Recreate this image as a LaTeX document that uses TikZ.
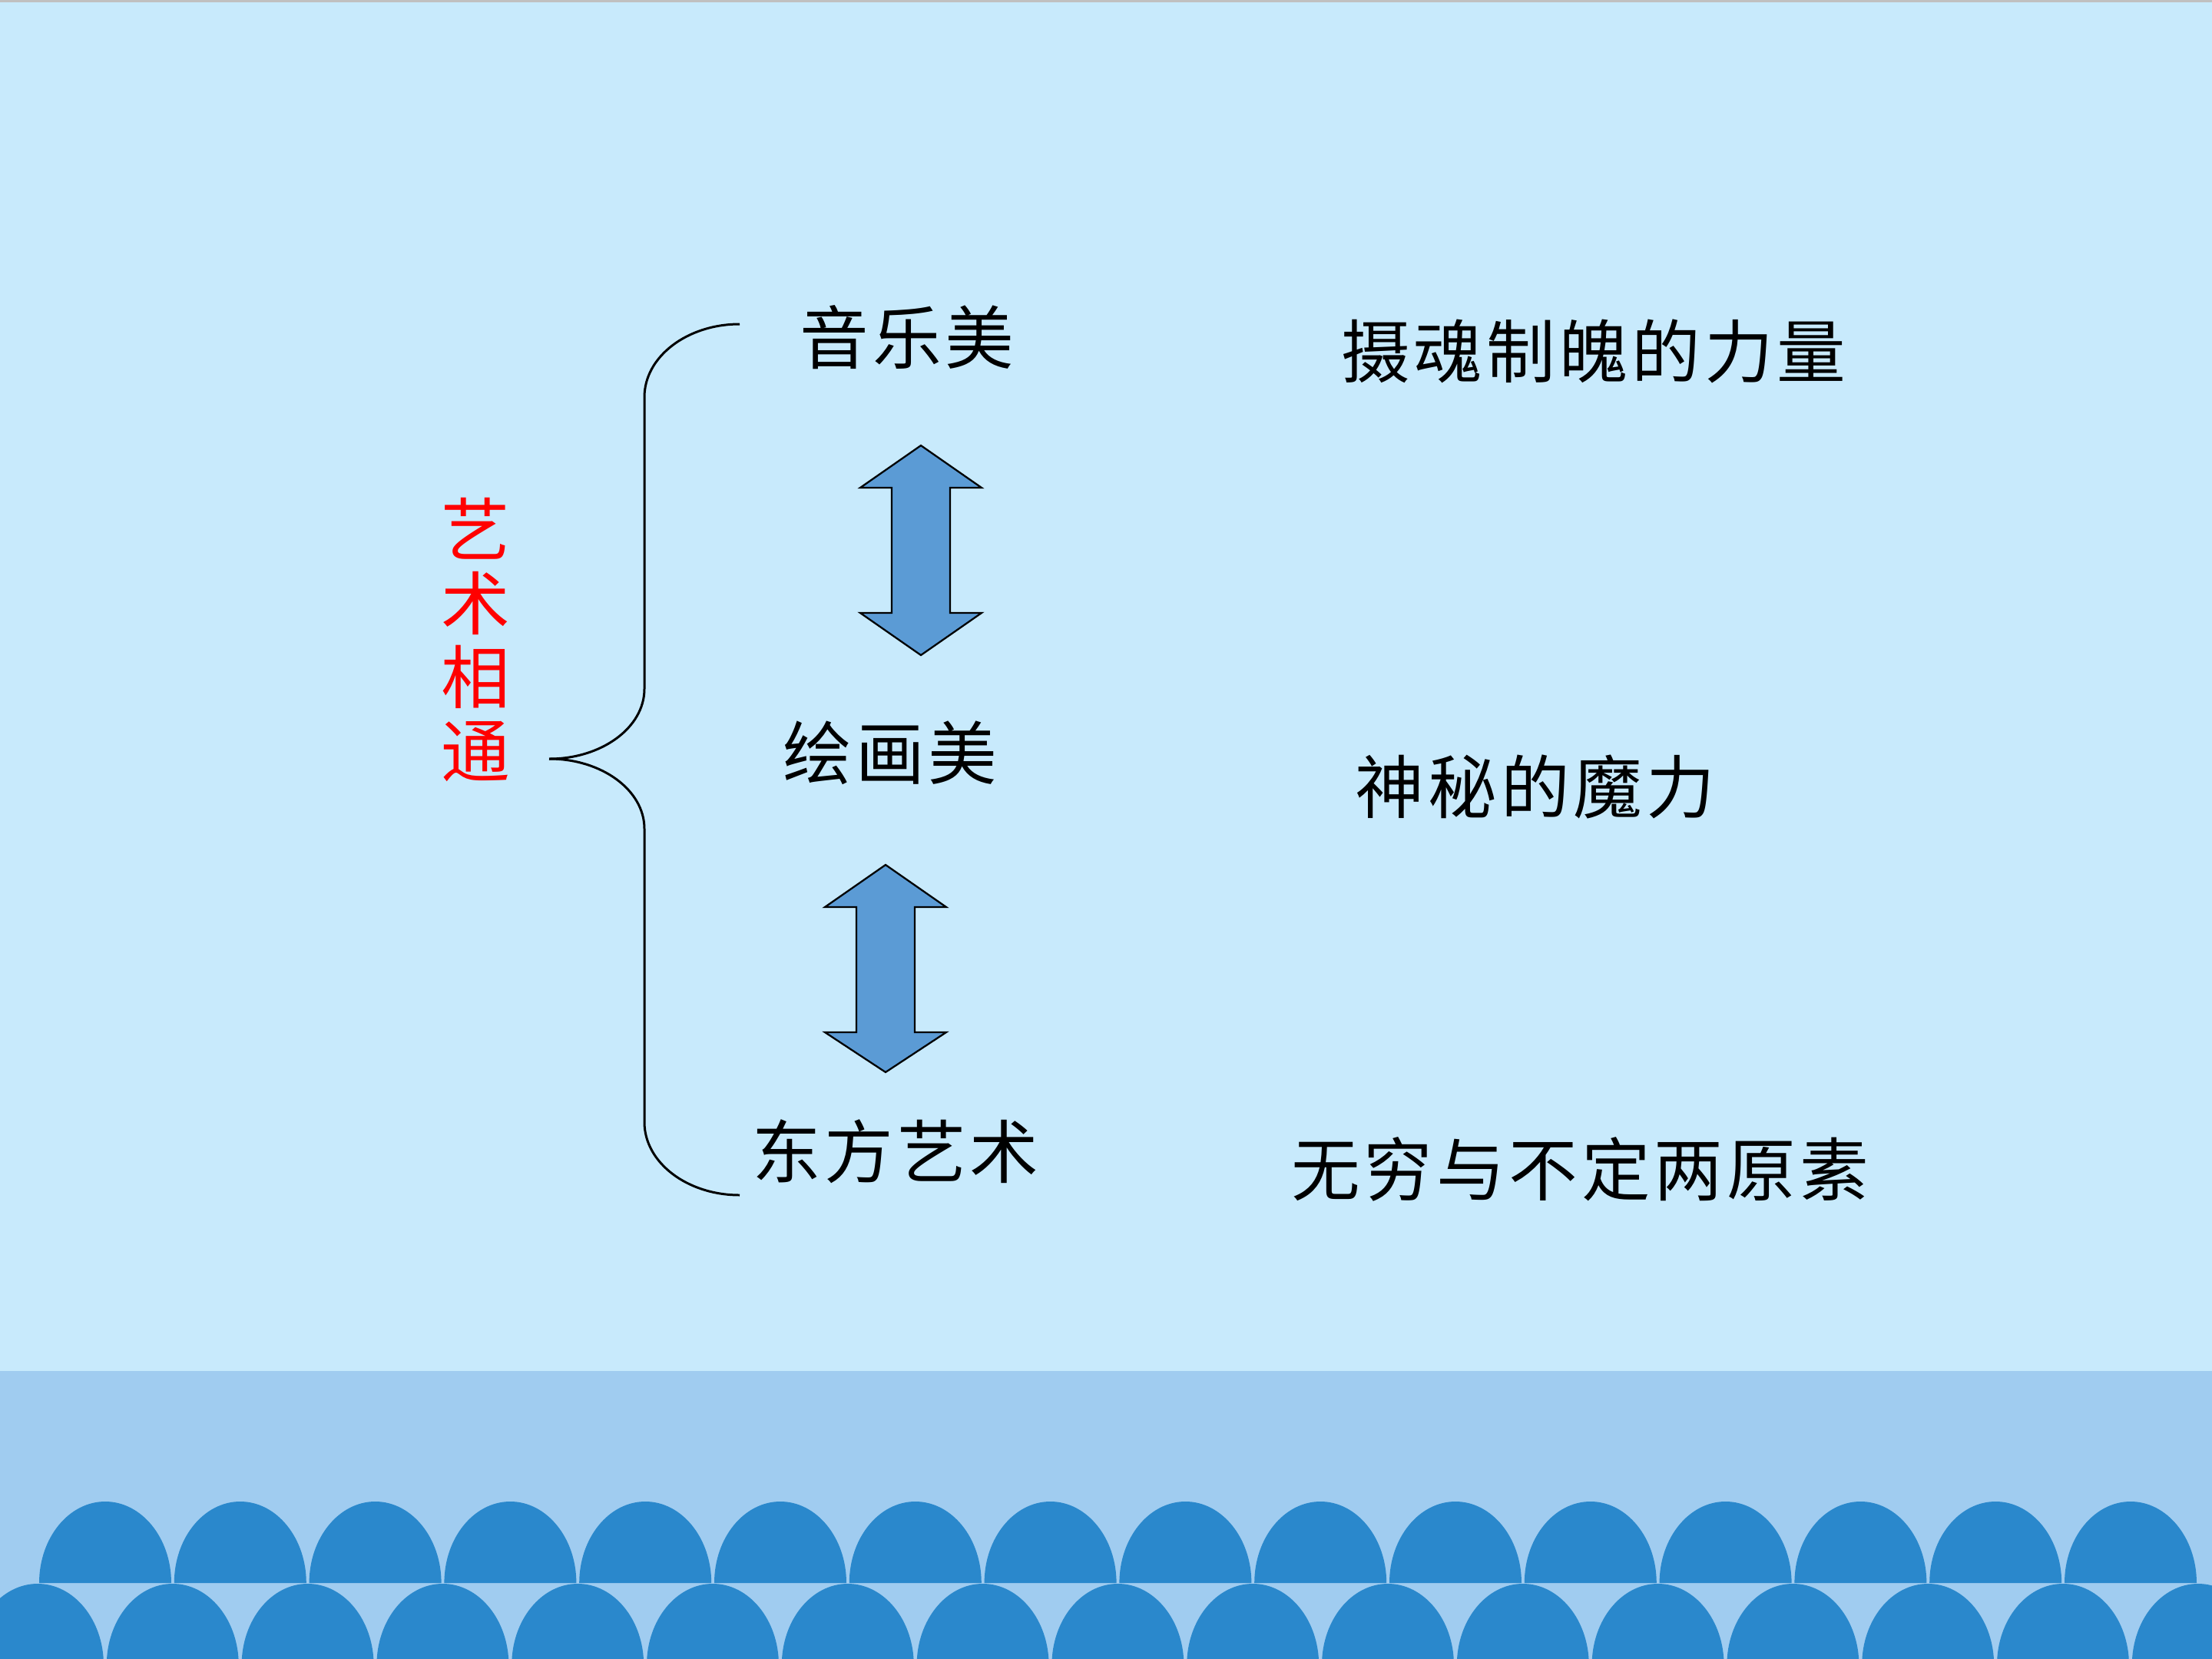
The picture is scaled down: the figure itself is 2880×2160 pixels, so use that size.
\documentclass[tikz,border=0pt]{standalone}
\usepackage{fontspec}
\newfontfamily\cjk[LetterSpace=5.5]{Noto Sans CJK SC}
\definecolor{skybg}{RGB}{200,234,252}
\definecolor{bandbg}{RGB}{160,204,240}
\definecolor{wavecol}{RGB}{42,136,204}
\definecolor{arrowblue}{RGB}{91,155,213}
\definecolor{topgray}{RGB}{192,192,192}
\begin{document}
\begin{tikzpicture}[x=0.01cm,y=0.01cm,
  lbl/.style={font=\cjk\fontsize{25.5}{27}\selectfont, inner sep=0pt, text=black},
  redlbl/.style={font=\cjk\fontsize{25.5}{27.3}\selectfont, inner sep=0pt, text=red, align=center},
  bracepath/.style={draw=black, line width=0.85pt},
  blockarrow/.style={fill=arrowblue, draw=black, line width=0.65pt, line join=miter},
  wave/.style={fill=wavecol}]
\useasboundingbox (0,0) rectangle (2880,-2160);
% background
\fill[skybg] (0,0) rectangle (2880,-2160);
\fill[topgray] (0,0) rectangle (2880,-3);
\fill[bandbg] (0,-1785) rectangle (2880,-2160);
% waves
\foreach \i in {0,...,15} {
  \fill[wave] ({137+175.8*\i-86},-2061) arc[start angle=180,end angle=0,x radius=86,y radius=106] -- cycle;
}
\foreach \i in {0,...,16} {
  \fill[wave] ({49+175.8*\i-86},-2168) arc[start angle=180,end angle=0,x radius=86,y radius=106] -- cycle;
}
% labels
\node[redlbl] (art) at (619,-833) {艺\\术\\相\\通};
\node[lbl] (music) at (1181,-439) {音乐美};
\node[lbl] (paint) at (1159,-980) {绘画美};
\node[lbl] (east) at (1166,-1499) {东方艺术};
\node[lbl] (r1) at (2075,-457) {摄魂制魄的力量};
\node[lbl] (r2) at (1999,-1024) {神秘的魔力};
\node[lbl] (r3) at (2057,-1522) {无穷与不定两原素};
% brace
\coordinate (bt) at (963,-422);
\coordinate (btip) at (715,-988);
\coordinate (bb) at (963,-1556);
\draw[bracepath] (bt) arc[start angle=90,end angle=180,x radius=124,y radius=95]
  -- (839,-897) arc[start angle=0,end angle=-90,x radius=124,y radius=91];
\draw[bracepath] (btip) arc[start angle=90,end angle=0,x radius=124,y radius=91]
  -- (839,-1461) arc[start angle=180,end angle=270,x radius=124,y radius=95];
% block arrows
\draw[blockarrow] (1199,-580) -- (1278,-635) -- (1237,-635) -- (1237,-798) -- (1278,-798)
  -- (1199,-853) -- (1120,-798) -- (1161,-798) -- (1161,-635) -- (1120,-635) -- cycle;
\draw[blockarrow] (1153,-1126) -- (1232,-1181) -- (1191,-1181) -- (1191,-1344) -- (1232,-1344)
  -- (1153,-1396) -- (1074,-1344) -- (1115,-1344) -- (1115,-1181) -- (1074,-1181) -- cycle;
\end{tikzpicture}
\end{document}
